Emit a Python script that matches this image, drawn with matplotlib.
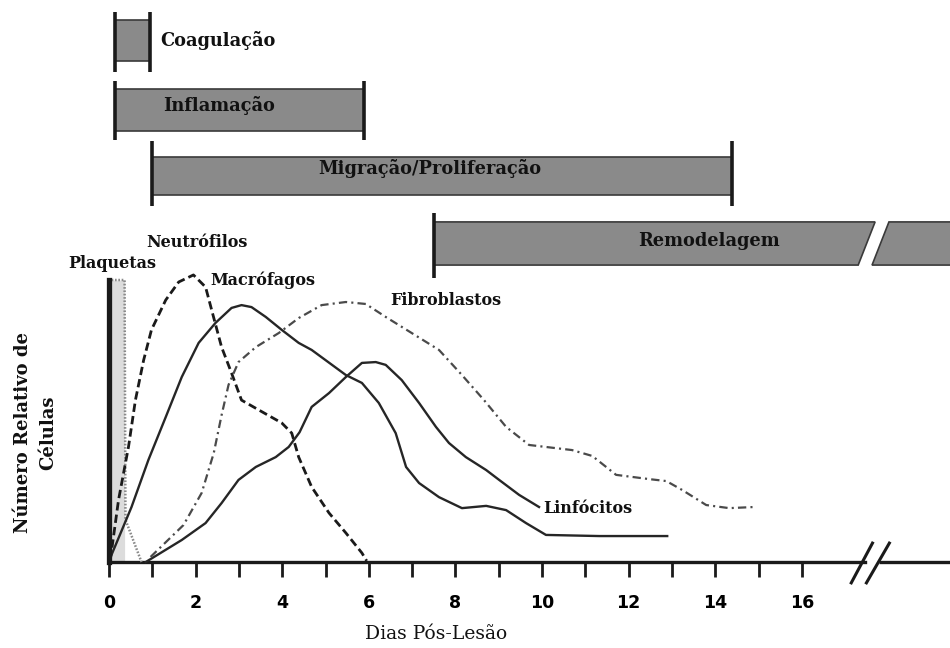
import matplotlib
matplotlib.use('Agg')
import matplotlib.pyplot as plt
from matplotlib.patches import Polygon, Rectangle

plt.rcParams['lines.scale_dashes'] = False

# ---------------- data ----------------
day_ticks = list(range(0, 17))
day_labels = [str(d) if d % 2 == 0 else '' for d in day_ticks]

phase_names = ['Coagulação', 'Inflamação', 'Migração/Proliferação', 'Remodelagem']
phase_start = [0.14, 0.14, 0.99, 7.51]
phase_end = [0.95, 5.89, 14.39, 19.6]

plaq_x = [0.0, 0.03, 0.36, 0.38, 0.75]
plaq_y = [0, 100, 100, 15, 0]

neut_x = [0.03, 0.22, 0.45, 0.61, 0.80, 0.98, 1.31, 1.61, 1.95, 2.23, 2.37, 2.60, 2.83,
          3.06, 3.46, 3.99, 4.22, 4.38, 4.68, 5.08, 5.47, 5.84, 5.95]
neut_y = [0.7, 22, 40.8, 57.4, 71.6, 82.3, 92.9, 99.3, 101.8, 97.5, 89.4, 76.2, 67.0,
          57.4, 53.9, 49.3, 45.7, 37.2, 26.6, 17.4, 10.3, 3.2, 0.4]

macro_x = [0.0, 0.52, 0.91, 1.31, 1.68, 2.07, 2.46, 2.83, 3.06, 3.29, 3.62, 3.99, 4.38,
           4.68, 5.47, 5.84, 6.23, 6.62, 6.86, 7.16, 7.62, 8.15, 8.71, 9.17, 9.63, 10.09,
           11.32, 12.89]
macro_y = [0.4, 19.5, 36.2, 51.4, 65.6, 77.7, 84.8, 90.1, 91.1, 90.4, 86.9, 82.3, 77.7,
           75.2, 66.3, 63.5, 56.4, 45.7, 33.7, 28.0, 23.0, 19.1, 19.9, 18.4, 13.8, 9.6,
           9.2, 9.2]

linf_x = [0.85, 1.68, 2.23, 2.60, 2.99, 3.39, 3.85, 4.15, 4.40, 4.68, 5.08, 5.47, 5.84,
          6.16, 6.39, 6.76, 7.16, 7.55, 7.85, 8.24, 8.71, 9.01, 9.47, 9.93]
linf_y = [0.0, 7.8, 13.8, 20.9, 29.1, 33.7, 37.2, 40.8, 46.0, 55.0, 59.9, 65.6, 70.6,
          70.9, 69.9, 64.5, 56.4, 47.9, 42.2, 37.2, 32.6, 29.1, 23.8, 19.5]

fib_x = [0.96, 1.72, 2.14, 2.42, 2.60, 2.76, 2.99, 3.39, 3.92, 4.38, 4.91, 5.47, 5.93,
         6.39, 6.99, 7.62, 8.15, 8.66, 9.17, 9.70, 10.69, 11.16, 11.71, 12.47, 12.87,
         13.24, 13.79, 14.32, 14.90]
fib_y = [1.8, 13.1, 24.5, 38.7, 52.1, 62.8, 70.9, 76.2, 81.2, 86.5, 91.1, 92.2, 91.5,
         86.9, 81.2, 75.2, 66.3, 57.4, 47.9, 41.5, 39.7, 37.6, 30.9, 29.4, 28.7,
         25.5, 20.2, 19.1, 19.5]

curve_labels = ['Plaquetas', 'Neutrófilos', 'Macrófagos', 'Fibroblastos', 'Linfócitos']

# ---------------- figure ----------------
fig = plt.figure(figsize=(9.5, 6.48), dpi=100)
ax = fig.add_axes([0, 0, 1, 1])
ax.set_xlim(-2.517, 19.42)
ax.set_ylim(-30.5, 199.3)
ax.patch.set_alpha(0)

serif = 'DejaVu Serif'
bar_face = '#8a8a8a'
dark = '#1a1a1a'

# phase bars: (fill bottom, fill top, cap bottom, cap top)
bar_rows = [(177.7, 192.2, 173.8, 195.0),
            (153.0, 167.7, 149.6, 170.6),
            (130.1, 143.6, 126.2, 149.3),
            (105.3, 120.6, 100.7, 123.8)]
label_pos = [(1.18, 184.9, 'left'), (2.55, 161.8, 'center'),
             (7.41, 139.4, 'center'), (13.86, 113.8, 'center')]

for i in range(3):
    fb, ft, cb, ct = bar_rows[i]
    s, e = phase_start[i], phase_end[i]
    ax.add_patch(Rectangle((s, fb), e - s, ft - fb, facecolor=bar_face,
                           edgecolor='#3a3a3a', linewidth=1.2, zorder=2))
    ax.plot([s, s], [cb, ct], color=dark, lw=2.6, solid_capstyle='butt', zorder=3)
    ax.plot([e, e], [cb, ct], color=dark, lw=2.6, solid_capstyle='butt', zorder=3)

# Remodelagem with break
fb, ft, cb, ct = bar_rows[3]
s, e = phase_start[3], phase_end[3]
ax.add_patch(Polygon([(s, fb), (s, ft), (17.69, ft), (17.30, fb)], closed=True,
                     facecolor=bar_face, edgecolor='#3a3a3a', linewidth=1.2, zorder=2))
ax.add_patch(Polygon([(17.62, fb), (18.01, ft), (e, ft), (e, fb)], closed=True,
                     facecolor=bar_face, edgecolor='#3a3a3a', linewidth=1.2, zorder=2))
ax.plot([s, s], [cb, ct], color=dark, lw=2.6, solid_capstyle='butt', zorder=3)

for i, name in enumerate(phase_names):
    x, y, ha = label_pos[i]
    ax.text(x, y, name, ha=ha, va='center', fontsize=12.8, fontweight='bold',
            family=serif, color='#111111', zorder=4)

# curves
ax.fill_between(plaq_x[:3], 0, plaq_y[:3], color='#dcdcdc', zorder=1, linewidth=0)
ax.plot(plaq_x, plaq_y, color='#8a8a8a', lw=1.8, linestyle=(0, (1.2, 1.2)), zorder=3)
ax.plot(neut_x, neut_y, color=dark, lw=2.0, linestyle=(0, (6, 3)), zorder=3)
ax.plot(macro_x, macro_y, color='#262626', lw=1.7, zorder=3)
ax.plot(linf_x, linf_y, color='#262626', lw=1.7, zorder=3)
ax.plot(fib_x, fib_y, color='#4a4a4a', lw=1.6, linestyle=(0, (6, 3, 1.5, 3)), zorder=3)

curve_label_pos = [(0.07, 106.0, 'center'), (2.04, 113.2, 'center'),
                   (2.33, 100.0, 'left'), (6.49, 92.9, 'left'), (10.02, 18.8, 'left')]
for name, (x, y, ha) in zip(curve_labels, curve_label_pos):
    ax.text(x, y, name, ha=ha, va='center', fontsize=11.5, fontweight='bold',
            family=serif, color='#111111', zorder=4)

# axes
for sp in ['top', 'right']:
    ax.spines[sp].set_visible(False)
ax.spines['left'].set_position(('data', 0))
ax.spines['left'].set_bounds(0, 100)
ax.spines['left'].set_linewidth(3.8)
ax.spines['left'].set_color(dark)
ax.spines['left'].set_zorder(5)
ax.spines['bottom'].set_position(('data', 0))
ax.spines['bottom'].set_bounds(0, 17.45)
ax.spines['bottom'].set_linewidth(2.4)
ax.spines['bottom'].set_color(dark)
ax.plot([17.78, 19.42], [0, 0], color=dark, lw=2.4, solid_capstyle='butt', zorder=5)
# break marks on axis
ax.plot([17.14, 17.63], [-7.4, 6.7], color=dark, lw=2.2, zorder=6)
ax.plot([17.49, 18.02], [-7.4, 6.7], color=dark, lw=2.2, zorder=6)

ax.set_xticks(day_ticks)
ax.set_xticklabels(day_labels)
ax.tick_params(axis='x', direction='out', length=11, width=2.0, color=dark, pad=12,
               labelsize=12.5)
for lab in ax.get_xticklabels():
    lab.set_fontweight('bold')
    lab.set_family('DejaVu Sans')
ax.set_yticks([])

ax.text(7.55, -25.5, 'Dias Pós-Lesão', ha='center', va='center', fontsize=13.5,
        family=serif, color='#111111')
ax.text(-1.69, 46.0, 'Número Relativo de\nCélulas', ha='center', va='center',
        rotation=90, fontsize=13, fontweight='bold', family=serif, linespacing=1.5,
        color='#111111')

fig.savefig('out.png', dpi=100)
